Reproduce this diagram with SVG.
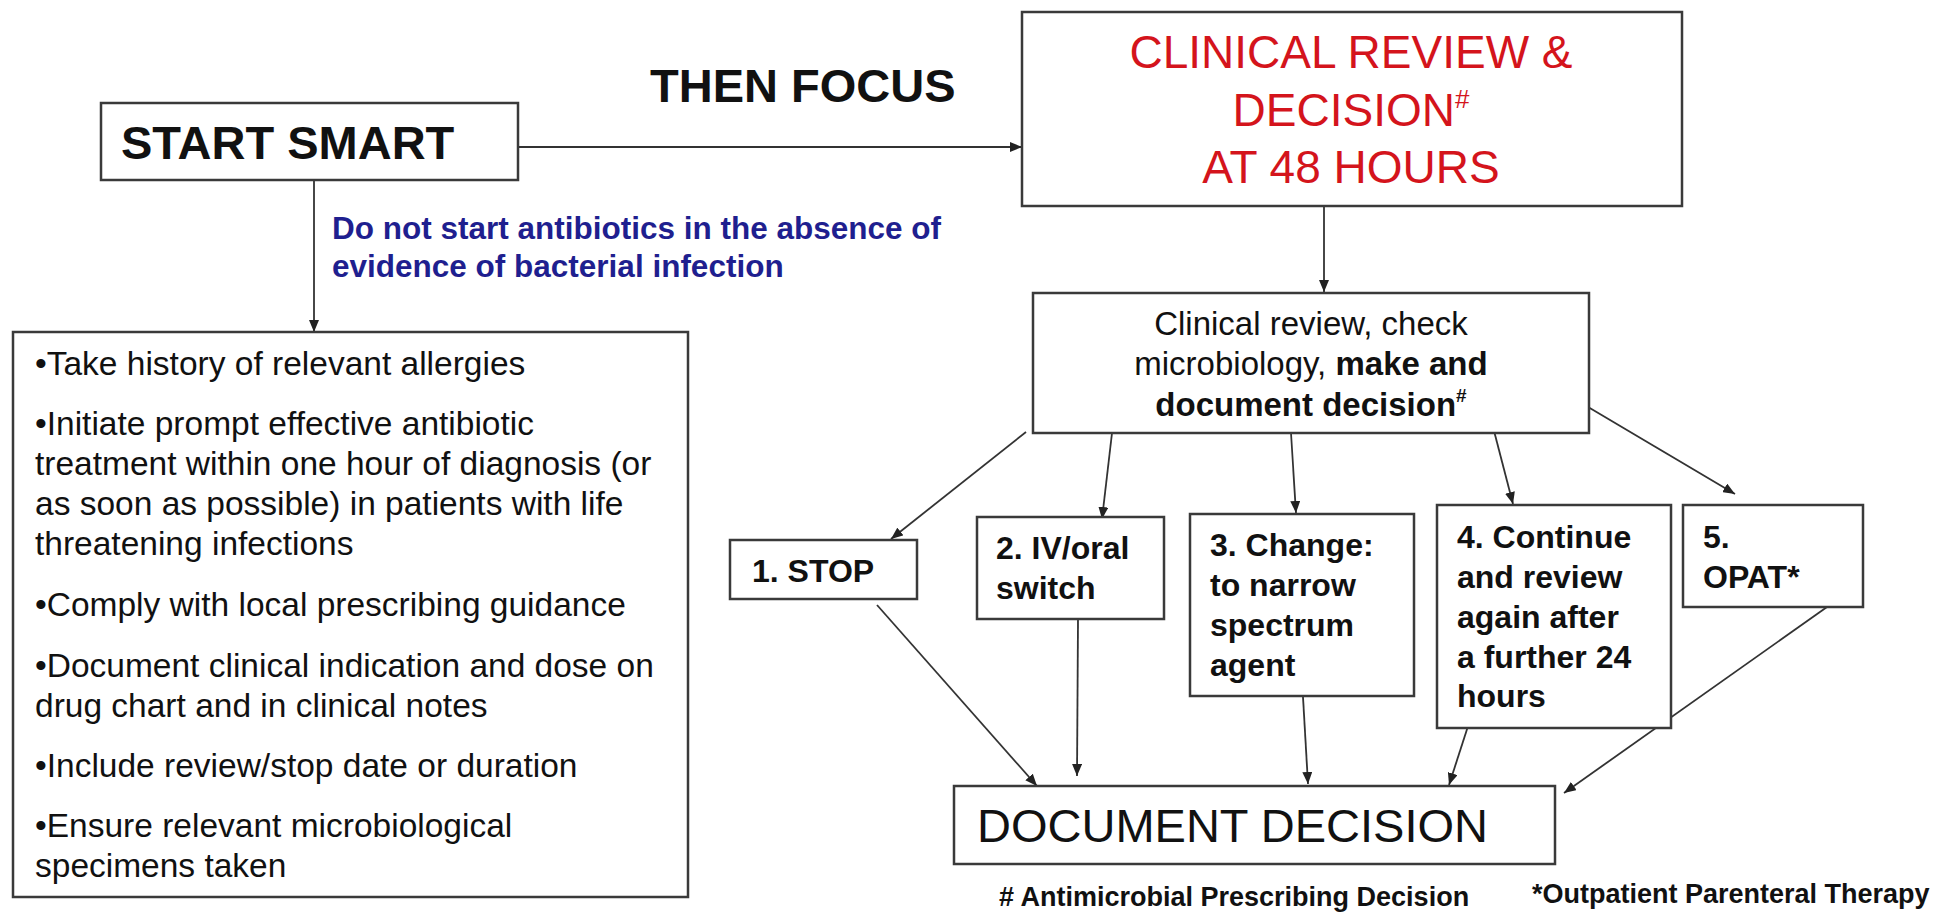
<svg xmlns="http://www.w3.org/2000/svg" width="1948" height="912" viewBox="0 0 1948 912">
<defs>
<style>
.box{fill:#fff;stroke:#3a3a3a;stroke-width:2.5}
.t{font-family:"Liberation Sans",Arial,sans-serif;fill:#111}
.b{font-weight:bold}
.red{fill:#d4141c}
.blue{fill:#1f1f8f}
.con line{stroke:#333;stroke-width:1.8;fill:none}
</style>
<marker id="ah" viewBox="0 0 12 10" refX="12" refY="5" markerWidth="12" markerHeight="10" markerUnits="userSpaceOnUse" orient="auto"><path d="M0,0 L12,5 L0,10 z" fill="#222"/></marker>
</defs>
<rect width="1948" height="912" fill="#fff"/>

<g id="connectors" class="con">
<line x1="518" y1="147" x2="1022" y2="147" marker-end="url(#ah)"/>
<line x1="314" y1="180" x2="314" y2="332" marker-end="url(#ah)"/>
<line x1="1324" y1="206" x2="1324" y2="292" marker-end="url(#ah)"/>
<line x1="1026" y1="432" x2="891" y2="539" marker-end="url(#ah)"/>
<line x1="1112" y1="433" x2="1102" y2="519" marker-end="url(#ah)"/>
<line x1="1291" y1="433" x2="1296" y2="513" marker-end="url(#ah)"/>
<line x1="1493" y1="427" x2="1513" y2="504" marker-end="url(#ah)"/>
<line x1="1583" y1="404" x2="1735" y2="494" marker-end="url(#ah)"/>
<line x1="877" y1="605" x2="1037" y2="786" marker-end="url(#ah)"/>
<line x1="1078" y1="620" x2="1077" y2="776" marker-end="url(#ah)"/>
<line x1="1303" y1="697" x2="1308" y2="784" marker-end="url(#ah)"/>
<line x1="1470" y1="720" x2="1449" y2="785" marker-end="url(#ah)"/>
<line x1="1827" y1="607" x2="1564" y2="793" marker-end="url(#ah)"/>
</g>

<g id="then-focus">
<text class="t b" x="650" y="102" font-size="47">THEN FOCUS</text>
</g>

<g id="start-smart">
<rect class="box" x="101" y="103" width="417" height="77"/>
<text class="t b" x="121" y="159" font-size="47">START SMART</text>
</g>

<g id="note-blue">
<text class="t b blue" x="332" y="239" font-size="31.5">Do not start antibiotics in the absence of</text>
<text class="t b blue" x="332" y="277" font-size="31.5">evidence of bacterial infection</text>
</g>

<g id="start-list">
<rect class="box" x="13" y="332" width="675" height="565"/>
<g class="t" font-size="33.5">
<text x="35" y="375">•Take history of relevant allergies</text>
<text x="35" y="435">•Initiate prompt effective antibiotic</text>
<text x="35" y="475">treatment within one hour of diagnosis (or</text>
<text x="35" y="515">as soon as possible) in patients with life</text>
<text x="35" y="555">threatening infections</text>
<text x="35" y="616">•Comply with local prescribing guidance</text>
<text x="35" y="677">•Document clinical indication and dose on</text>
<text x="35" y="717">drug chart and in clinical notes</text>
<text x="35" y="777">•Include review/stop date or duration</text>
<text x="35" y="837">•Ensure relevant microbiological</text>
<text x="35" y="877">specimens taken</text>
</g>
</g>

<g id="clinical-review-48">
<rect class="box" x="1022" y="12" width="660" height="194"/>
<g class="t red" font-size="46" text-anchor="middle">
<text x="1351" y="68">CLINICAL REVIEW &amp;</text>
<text x="1351" y="126">DECISION<tspan font-size="26" dy="-18">#</tspan></text>
<text x="1351" y="183">AT 48 HOURS</text>
</g>
</g>

<g id="clinical-review-check">
<rect class="box" x="1033" y="293" width="556" height="140"/>
<g class="t" font-size="33" text-anchor="middle">
<text x="1311" y="335">Clinical review, check</text>
<text x="1311" y="375">microbiology, <tspan class="b">make and</tspan></text>
<text x="1311" y="416" class="b">document decision<tspan font-size="19" dy="-14">#</tspan></text>
</g>
</g>

<g id="stop">
<rect class="box" x="730" y="540" width="187" height="59"/>
<text class="t b" x="752" y="582" font-size="32">1. STOP</text>
</g>

<g id="iv-oral">
<rect class="box" x="977" y="517" width="187" height="102"/>
<g class="t b" font-size="32">
<text x="996" y="559">2. IV/oral</text>
<text x="996" y="599">switch</text>
</g>
</g>

<g id="change">
<rect class="box" x="1190" y="514" width="224" height="182"/>
<g class="t b" font-size="32">
<text x="1210" y="556">3. Change:</text>
<text x="1210" y="596">to narrow</text>
<text x="1210" y="636">spectrum</text>
<text x="1210" y="676">agent</text>
</g>
</g>

<g id="continue">
<rect class="box" x="1437" y="505" width="234" height="223"/>
<g class="t b" font-size="32">
<text x="1457" y="548">4. Continue</text>
<text x="1457" y="588">and review</text>
<text x="1457" y="628">again after</text>
<text x="1457" y="668">a further 24</text>
<text x="1457" y="707">hours</text>
</g>
</g>

<g id="opat">
<rect class="box" x="1683" y="505" width="180" height="102"/>
<g class="t b" font-size="32">
<text x="1703" y="548">5.</text>
<text x="1703" y="588">OPAT*</text>
</g>
</g>

<g id="document-decision">
<rect class="box" x="954" y="786" width="601" height="78"/>
<text class="t" x="977" y="842" font-size="47">DOCUMENT DECISION</text>
</g>

<g id="footnotes">
<text class="t b" x="999" y="906" font-size="27"># Antimicrobial Prescribing Decision</text>
<text class="t b" x="1532" y="903" font-size="27">*Outpatient Parenteral Therapy</text>
</g>
</svg>
